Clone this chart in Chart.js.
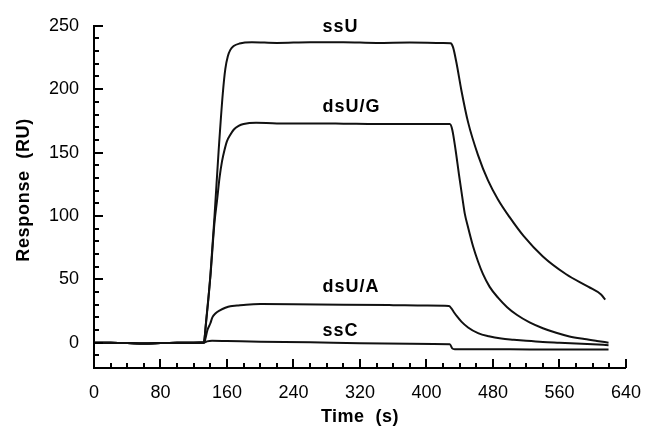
<!DOCTYPE html>
<html>
<head>
<meta charset="utf-8">
<script src="https://cdn.jsdelivr.net/npm/chart.js@4.4.1/dist/chart.umd.min.js"></script>
<style>
  body { margin: 0; background: #fff; }
  #wrap { width: 655px; height: 427px; }
</style>
</head>
<body>
<div id="wrap"><canvas id="sprChart" width="655" height="427"></canvas></div>
<script>
// sensorgram traces, time in s, response in RU
const ssuTime = [0, 20, 40, 60, 80, 100, 120, 132, 135, 140, 145, 150, 155, 158, 161, 164, 168, 175, 190, 220, 260, 300, 340, 380, 420, 429, 432, 436, 442, 450, 462, 474, 486, 500, 517, 540, 568, 595, 610, 615];
const ssuResp = [0, 0, -0.3, -0.6, -0.3, 0, 0, 0.3, 18, 53, 100, 152, 197, 216, 226, 231, 234, 236, 237, 236.5, 237, 237, 236.5, 236.8, 236.5, 236.3, 233, 221, 199, 174, 148, 128, 113, 99, 84, 68, 54, 44, 38, 34];

const dsugTime = [0, 20, 40, 60, 80, 100, 120, 132, 135, 140, 145, 148, 151, 154, 157, 160, 164, 168, 174, 180, 195, 220, 260, 300, 340, 380, 428, 431, 435, 439, 443, 446, 450, 456, 462, 468, 476, 486, 497, 509, 524, 540, 556, 572, 590, 605, 619];
const dsugResp = [0, 0, -0.3, -0.6, -0.3, 0, 0, 0.3, 17, 52, 95, 112, 130, 143, 152, 159, 164, 168, 171, 172.5, 173.5, 173, 173, 172.8, 172.5, 172.5, 172.5, 168, 152, 133, 115, 102, 91, 76, 64, 54, 44, 35.5, 28, 21.8, 16, 11.4, 7.8, 4.9, 2.8, 1.3, 0];

const dsuaTime = [0, 20, 40, 60, 80, 100, 120, 132.6, 134, 136.5, 140, 142.4, 146, 152, 158, 164, 172, 183, 200, 240, 300, 360, 400, 427, 430, 433, 437, 442, 450, 462, 475, 490, 505, 520, 540, 560, 580, 600, 619];
const dsuaResp = [0, 0, -0.3, -0.6, -0.3, 0, 0, 0, 3, 10, 15.3, 20, 23, 25.7, 27.5, 28.8, 29.3, 30, 30.4, 30.3, 30, 29.6, 29.3, 29, 27, 24, 20.5, 16.6, 12, 7.5, 5, 3.2, 2.3, 1.5, 0.6, 0, -0.6, -1.2, -2];

const sscTime = [0, 20, 40, 60, 80, 100, 120, 132.6, 136, 142, 160, 200, 260, 320, 380, 428, 431, 434, 460, 500, 540, 580, 619];
const sscResp = [0, 0, -0.3, -0.6, -0.3, 0, 0, 0, 1, 1.5, 1.3, 0.8, 0.3, -0.5, -0.8, -1.2, -4.5, -5.2, -5.3, -5.2, -5.4, -5.5, -5.5];

// curve labels: name, time, response where the text sits
const labelNames = ['ssU', 'dsU/G', 'dsU/A', 'ssC'];
const labelTime = [275, 275, 275, 275];
const labelResp = [249, 186, 44, 9.3];

const xTicks = [0, 80, 160, 240, 320, 400, 480, 560, 640];
const yTicks = [0, 50, 100, 150, 200, 250];

const FONT = "'Liberation Sans', Arial, Helvetica, sans-serif";

function toPoints(t, v) {
    return t.map((x, i) => ({ x: x, y: v[i] }));
}

function trace(label, t, v) {
    return {
        label: label,
        data: toPoints(t, v),
        borderColor: '#111',
        borderWidth: 2,
        pointRadius: 0,
        fill: false,
        cubicInterpolationMode: 'monotone'
    };
}

// tick marks point into the plot, majors longer than minors
function drawInnerTicks(chart) {
    const c = chart.ctx;
    const x = chart.scales.x;
    const y = chart.scales.y;
    const base = chart.chartArea.bottom;
    const left = chart.chartArea.left;
    c.save();
    c.fillStyle = '#000000';
    for (let v = 0; v <= 640; v += 20) {
        const px = Math.round(x.getPixelForValue(v));
        const len = v % 80 === 0 ? 9 : 5;
        c.fillRect(px - 1, base - len, 2, len);
    }
    for (let v = -10; v <= 250; v += 10) {
        const py = Math.round(y.getPixelForValue(v));
        const len = v % 50 === 0 ? 9 : 5;
        c.fillRect(left, py - 1, len, 2);
    }
    c.restore();
}

const curveLabels = {
    id: 'curveLabels',
    afterDatasetsDraw(chart) {
        const c = chart.ctx;
        const x = chart.scales.x;
        const y = chart.scales.y;
        c.save();
        c.fillStyle = '#000';
        c.font = 'bold 18px ' + FONT;
        c.letterSpacing = '1px';
        c.textAlign = 'left';
        c.textBaseline = 'middle';
        labelNames.forEach((name, i) => {
            c.fillText(name, x.getPixelForValue(labelTime[i]), y.getPixelForValue(labelResp[i]));
        });
        c.restore();
    }
};

// axis titles and inner ticks, drawn by hand so they sit where the original has them
const axisDecor = {
    id: 'axisDecor',
    afterDraw(chart) {
        drawInnerTicks(chart);
        const c = chart.ctx;
        const area = chart.chartArea;
        c.save();
        c.fillStyle = '#000';
        c.font = 'bold 18px ' + FONT;
        c.textAlign = 'center';
        c.textBaseline = 'middle';
        c.letterSpacing = '0.5px';
        c.fillText('Time  (s)', (area.left + area.right) / 2, 417);
        c.translate(24, (area.top + area.bottom) / 2 - 7);
        c.rotate(-Math.PI / 2);
        c.letterSpacing = '0.7px';
        c.fillText('Response  (RU)', 0, 0);
        c.restore();
    }
};

const ctx = document.getElementById('sprChart').getContext('2d');
new Chart(ctx, {
    type: 'line',
    data: {
        datasets: [
            trace('ssU', ssuTime, ssuResp),
            trace('dsU/G', dsugTime, dsugResp),
            trace('dsU/A', dsuaTime, dsuaResp),
            trace('ssC', sscTime, sscResp)
        ]
    },
    options: {
        responsive: false,
        animation: false,
        layout: { padding: { top: 23, right: 17, left: 0, bottom: 0 } },
        plugins: {
            legend: { display: false },
            tooltip: { enabled: false }
        },
        scales: {
            x: {
                type: 'linear',
                min: 0,
                max: 640,
                afterBuildTicks: s => { s.ticks = xTicks.map(v => ({ value: v })); },
                afterFit: s => { s.height = 59; },
                grid: { display: false, drawTicks: false },
                border: { display: true, color: '#000', width: 2 },
                ticks: {
                    color: '#000',
                    padding: 14,
                    maxRotation: 0,
                    autoSkip: false,
                    font: { family: FONT, size: 18 }
                }
            },
            y: {
                min: -20,
                max: 250,
                afterBuildTicks: s => { s.ticks = yTicks.map(v => ({ value: v })); },
                afterFit: s => { s.width = 94; },
                grid: { display: false, drawTicks: false },
                border: { display: true, color: '#000', width: 2 },
                ticks: {
                    color: '#000',
                    padding: 15,
                    font: { family: FONT, size: 18 }
                }
            }
        }
    },
    plugins: [curveLabels, axisDecor]
});
</script>
</body>
</html>
